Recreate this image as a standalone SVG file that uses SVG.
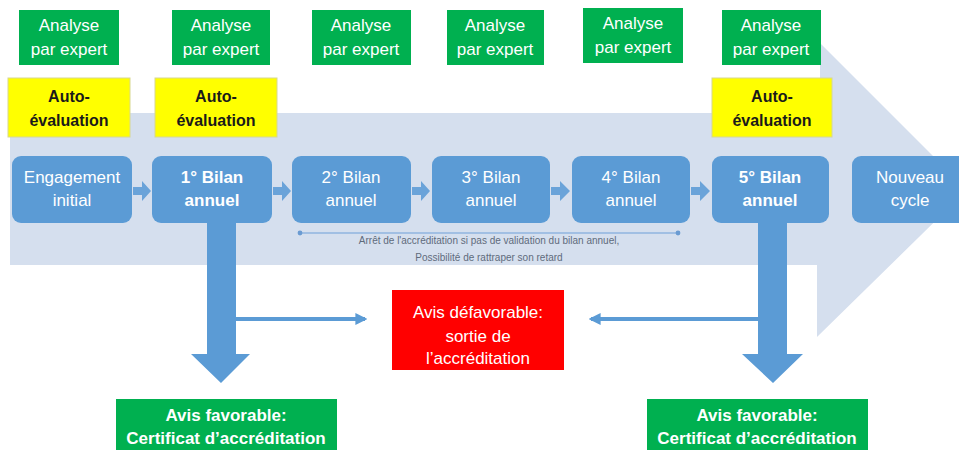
<svg xmlns="http://www.w3.org/2000/svg" width="959" height="450" viewBox="0 0 959 450">
<defs>
<style>
.bg{fill:#d5dfee}
.exp{fill:#00b050}
.auto{fill:#ffff00;stroke:#d8d890;stroke-width:1}
.blue{fill:#5b9bd5}
.red{fill:#ff0000}
text{font-family:"Liberation Sans",Arial,sans-serif;text-anchor:middle}
.wt{fill:#ffffff;font-size:17px}
.bt{fill:#1a1a1a;font-size:16px;font-weight:bold}
.bold{font-weight:bold}
.dim{fill:#5f6b7c;font-size:10px}
.sa{fill:#6aa3d9}
.thin{stroke:#5b9bd5;stroke-width:4;fill:none}
</style>
<marker id="ah" viewBox="0 0 10 10" refX="8" refY="5" markerWidth="3" markerHeight="3" orient="auto-start-reverse">
<path d="M0,0 L10,5 L0,10 z" fill="#5b9bd5"/>
</marker>
<marker id="dot" viewBox="0 0 10 10" refX="5" refY="5" markerWidth="4" markerHeight="4">
<circle cx="5" cy="5" r="4" fill="#6a9bd2"/>
</marker>
</defs>

<g id="background-arrow">
<polygon class="bg" points="10,113 820,113 820,43 967,190 817,337 817,265 10,265"/>
</g>

<g id="connectors">
<polygon class="sa" points="133,187 142,187 142,181 151,191 142,201 142,195 133,195"/>
<polygon class="sa" points="273,187 282,187 282,181 291,191 282,201 282,195 273,195"/>
<polygon class="sa" points="412,187 421,187 421,181 430,191 421,201 421,195 412,195"/>
<polygon class="sa" points="551,187 560,187 560,181 570,191 560,201 560,195 551,195"/>
<polygon class="sa" points="691,187 700,187 700,181 710,191 700,201 700,195 691,195"/>
<line x1="300" y1="233" x2="678" y2="233" stroke="#8fb4df" stroke-width="1.5" marker-start="url(#dot)" marker-end="url(#dot)"/>
<polygon class="blue" points="207,222 236,222 236,354 250,354 221,383 191,354 207,354"/>
<polygon class="blue" points="758,222 787,222 787,354 803,354 773,383 742,354 758,354"/>
<line class="thin" x1="236" y1="319" x2="365" y2="319" marker-end="url(#ah)"/>
<line class="thin" x1="758" y1="319" x2="591" y2="319" marker-end="url(#ah)"/>
</g>

<g id="dim-label">
<text class="dim" x="489" y="244">Arrêt de l'accréditation si pas de validation du bilan annuel,</text>
<text class="dim" x="489" y="261">Possibilité de rattraper son retard</text>
</g>

<g id="expert1"><rect class="exp" x="19" y="10" width="100" height="55"/><text class="wt" x="69" y="31">Analyse</text><text class="wt" x="69" y="55">par expert</text></g>
<g id="expert2"><rect class="exp" x="172" y="10" width="98" height="55"/><text class="wt" x="221" y="31">Analyse</text><text class="wt" x="221" y="55">par expert</text></g>
<g id="expert3"><rect class="exp" x="312" y="10" width="99" height="55"/><text class="wt" x="361" y="31">Analyse</text><text class="wt" x="361" y="55">par expert</text></g>
<g id="expert4"><rect class="exp" x="447" y="10" width="97" height="55"/><text class="wt" x="495" y="31">Analyse</text><text class="wt" x="495" y="55">par expert</text></g>
<g id="expert5"><rect class="exp" x="583" y="8" width="100" height="55"/><text class="wt" x="633" y="29">Analyse</text><text class="wt" x="633" y="53">par expert</text></g>
<g id="expert6"><rect class="exp" x="722" y="10" width="99" height="55"/><text class="wt" x="771" y="31">Analyse</text><text class="wt" x="771" y="55">par expert</text></g>

<g id="auto1"><rect class="auto" x="8" y="78" width="122" height="59"/><text class="bt" x="69" y="102">Auto-</text><text class="bt" x="69" y="126">évaluation</text></g>
<g id="auto2"><rect class="auto" x="155" y="78" width="122" height="59"/><text class="bt" x="216" y="102">Auto-</text><text class="bt" x="216" y="126">évaluation</text></g>
<g id="auto3"><rect class="auto" x="712" y="78" width="120" height="59"/><text class="bt" x="772" y="102">Auto-</text><text class="bt" x="772" y="126">évaluation</text></g>

<g id="engagement"><rect class="blue" x="12" y="156" width="120" height="67" rx="9"/><text class="wt" x="72" y="183">Engagement</text><text class="wt" x="72" y="206">initial</text></g>
<g id="bilan1"><rect class="blue" x="152" y="156" width="120" height="67" rx="9"/><text class="wt bold" x="212" y="183">1° Bilan</text><text class="wt bold" x="212" y="206">annuel</text></g>
<g id="bilan2"><rect class="blue" x="292" y="156" width="119" height="67" rx="9"/><text class="wt" x="351" y="183">2° Bilan</text><text class="wt" x="351" y="206">annuel</text></g>
<g id="bilan3"><rect class="blue" x="432" y="156" width="118" height="67" rx="9"/><text class="wt" x="491" y="183">3° Bilan</text><text class="wt" x="491" y="206">annuel</text></g>
<g id="bilan4"><rect class="blue" x="572" y="156" width="118" height="67" rx="9"/><text class="wt" x="631" y="183">4° Bilan</text><text class="wt" x="631" y="206">annuel</text></g>
<g id="bilan5"><rect class="blue" x="712" y="156" width="117" height="67" rx="9"/><text class="wt bold" x="770" y="183">5° Bilan</text><text class="wt bold" x="770" y="206">annuel</text></g>
<g id="nouveau"><rect class="blue" x="852" y="156" width="120" height="67" rx="9"/><text class="wt" x="910" y="183">Nouveau</text><text class="wt" x="910" y="206">cycle</text></g>

<g id="defavorable"><rect class="red" x="392" y="290" width="172" height="80"/><text class="wt" x="478" y="318">Avis défavorable:</text><text class="wt" x="478" y="342">sortie de</text><text class="wt" x="478" y="364">l’accréditation</text></g>

<g id="favorable1"><rect class="exp" x="116" y="399" width="221" height="55"/><text class="wt bold" x="226" y="421">Avis favorable:</text><text class="wt bold" x="226" y="444">Certificat d’accréditation</text></g>
<g id="favorable2"><rect class="exp" x="647" y="399" width="221" height="55"/><text class="wt bold" x="757" y="421">Avis favorable:</text><text class="wt bold" x="757" y="444">Certificat d’accréditation</text></g>
</svg>
